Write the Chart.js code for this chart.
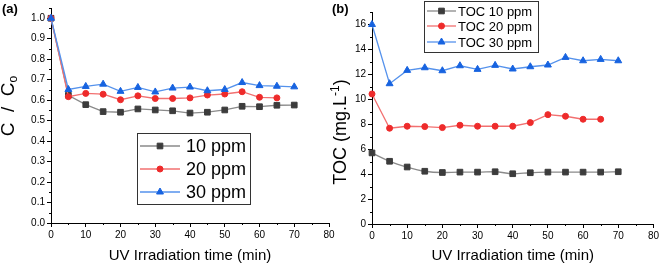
<!DOCTYPE html>
<html>
<head>
<meta charset="utf-8">
<script src="https://cdn.jsdelivr.net/npm/chart.js@4.4.1/dist/chart.umd.min.js"></script>
<style>
  body { margin: 0; background: #fff; }
  #wrap { position: relative; width: 661px; height: 265px; background: #fff; overflow: hidden; }
  canvas { position: absolute; top: 0; }
</style>
</head>
<body>
<div id="wrap">
  <canvas id="chartA" width="340" height="265" style="left:0"></canvas>
  <canvas id="chartB" width="331" height="265" style="left:330px"></canvas>
</div>
<script>
// irradiation times (min)
const timeMin = [0, 5, 10, 15, 20, 25, 30, 35, 40, 45, 50, 55, 60, 65, 70];

// panel (a): C / Co
const ratio10 = [1.0, 0.624, 0.578, 0.544, 0.541, 0.557, 0.552, 0.548, 0.537, 0.541, 0.552, 0.570, 0.568, 0.575, 0.576];
const ratio20 = [1.0, 0.617, 0.633, 0.629, 0.602, 0.621, 0.608, 0.608, 0.611, 0.625, 0.630, 0.641, 0.614, 0.611];
const ratio30 = [1.0, 0.652, 0.667, 0.678, 0.643, 0.662, 0.640, 0.659, 0.664, 0.646, 0.652, 0.686, 0.671, 0.668, 0.665];

// panel (b): TOC (mg/L)
const toc10 = [5.70, 5.03, 4.57, 4.23, 4.13, 4.16, 4.16, 4.19, 4.03, 4.11, 4.16, 4.16, 4.16, 4.16, 4.19];
const toc20 = [10.43, 7.68, 7.84, 7.81, 7.73, 7.92, 7.84, 7.84, 7.84, 8.13, 8.77, 8.64, 8.40, 8.40];
const toc30 = [16.0, 11.25, 12.32, 12.53, 12.29, 12.69, 12.40, 12.72, 12.43, 12.61, 12.75, 13.36, 13.09, 13.20, 13.09];

const labelsA = ['10 ppm', '20 ppm', '30 ppm'];
const labelsB = ['TOC 10 ppm', 'TOC 20 ppm', 'TOC 30 ppm'];

Chart.defaults.font.family = '"Liberation Sans", Arial, sans-serif';
Chart.defaults.color = '#000';

const styles = [
  { line: '#8a8a8a', mark: '#3c3c3c', shape: 'rect', r: 4 },
  { line: '#f27070', mark: '#ee2b2b', shape: 'circle', r: 3 },
  { line: '#5592ec', mark: '#1763e0', shape: 'triangle', r: 4 }
];

const toPoints = (vals) => vals.map((v, i) => ({ x: timeMin[i], y: v }));

const makeSet = (label, vals, idx, smooth) => ({
  label,
  data: toPoints(vals),
  borderColor: styles[idx].line,
  borderWidth: 1.3,
  pointStyle: styles[idx].shape,
  pointRadius: styles[idx].r,
  pointBackgroundColor: styles[idx].mark,
  pointBorderColor: styles[idx].mark,
  pointBorderWidth: 1,
  cubicInterpolationMode: smooth ? 'monotone' : 'default',
  order: 2 - idx,
  clip: false
});

// minor ticks + titles + legend box drawn on canvas
const extrasPlugin = {
  id: 'extras',
  afterDraw(chart, args, opts) {
    const ctx = chart.ctx;
    const xs = chart.scales.x, ys = chart.scales.y;
    ctx.save();
    ctx.strokeStyle = '#000';
    ctx.lineWidth = 1;
    ctx.beginPath();
    for (let v = 5; v < 80; v += 10) {
      const px = Math.round(xs.getPixelForValue(v)) + 0.5;
      ctx.moveTo(px, xs.top); ctx.lineTo(px, xs.top + 2);
    }
    for (let v = opts.yMinor; v <= ys.max + 1e-9; v += opts.yStep) {
      const py = Math.round(ys.getPixelForValue(v)) + 0.5;
      ctx.moveTo(ys.right, py); ctx.lineTo(ys.right - 2, py);
    }
    ctx.stroke();

    // panel letter
    ctx.fillStyle = '#000';
    ctx.font = 'bold 13px "Liberation Sans", Arial, sans-serif';
    ctx.textBaseline = 'top';
    ctx.textAlign = 'left';
    ctx.fillText(opts.panel, 2, 3);

    // y title with sub/superscript
    ctx.translate(opts.titleX, opts.titleY);
    ctx.rotate(-Math.PI / 2);
    const big = opts.titleSize + 'px "Liberation Sans", Arial, sans-serif';
    const small = '12px "Liberation Sans", Arial, sans-serif';
    ctx.font = big;
    const w1 = ctx.measureText(opts.yTitle[0]).width;
    ctx.font = small;
    const w2 = ctx.measureText(opts.yTitle[1]).width;
    ctx.font = big;
    const w3 = ctx.measureText(opts.yTitle[2]).width;
    let x0 = -(w1 + w2 + w3) / 2;
    ctx.textBaseline = 'middle';
    ctx.font = big;
    ctx.fillText(opts.yTitle[0], x0, 0);
    ctx.font = small;
    ctx.fillText(opts.yTitle[1], x0 + w1, opts.scriptShift);
    ctx.font = big;
    ctx.fillText(opts.yTitle[2], x0 + w1 + w2, 0);
    ctx.restore();

    // legend
    const lg = opts.legend;
    ctx.save();
    ctx.strokeStyle = '#333';
    ctx.lineWidth = 1;
    ctx.strokeRect(lg.x + 0.5, lg.y + 0.5, lg.w, lg.h);
    ctx.font = lg.font + 'px "Liberation Sans", Arial, sans-serif';
    ctx.textBaseline = 'middle';
    chart.data.datasets.forEach((ds, i) => {
      const yy = lg.rows[i];
      ctx.strokeStyle = ds.borderColor;
      ctx.lineWidth = 1.3;
      ctx.beginPath();
      ctx.moveTo(lg.lineX[0], yy); ctx.lineTo(lg.lineX[1], yy);
      ctx.stroke();
      ctx.fillStyle = ds.pointBackgroundColor;
      ctx.strokeStyle = ds.pointBorderColor;
      ctx.lineWidth = 1;
      Chart.helpers.drawPoint(ctx, { pointStyle: ds.pointStyle, radius: ds.pointRadius, rotation: 0, borderWidth: 1 },
        (lg.lineX[0] + lg.lineX[1]) / 2, yy);
      ctx.fillStyle = '#000';
      ctx.fillText(ds.label, lg.textX, yy + 1);
    });
    ctx.restore();
  }
};

const axisOpts = (yMax, yStep, yFmt, leftW, bottomH) => ({
  x: {
    type: 'linear', min: 0, max: 80,
    ticks: { stepSize: 10, padding: 2, font: { size: 10 }, maxRotation: 0 },
    grid: { display: true, drawOnChartArea: false, drawTicks: true, tickLength: 4, color: '#000' },
    border: { display: true, color: '#000', width: 1 },
    title: { display: true, text: 'UV Irradiation time (min)', font: { size: 15 }, padding: { top: 0, bottom: 0 } },
    afterFit: (s) => { s.height = bottomH; }
  },
  y: {
    min: 0, max: yMax,
    ticks: { stepSize: yStep, includeBounds: false, padding: 2, font: { size: 10 }, callback: yFmt },
    grid: { display: true, drawOnChartArea: false, drawTicks: true, tickLength: 4, color: '#000' },
    border: { display: true, color: '#000', width: 1 },
    afterFit: (s) => { s.width = leftW; }
  }
});

new Chart(document.getElementById('chartA'), {
  type: 'line',
  data: {
    datasets: [
      makeSet(labelsA[0], ratio10, 0, false),
      makeSet(labelsA[1], ratio20, 1, false),
      makeSet(labelsA[2], ratio30, 2, false)
    ]
  },
  options: {
    responsive: false,
    animation: false,
    layout: { padding: { top: 8, right: 11, left: 0, bottom: 0 } },
    scales: axisOpts(1.05, 0.1, (v) => v.toFixed(1), 51, 42),
    plugins: {
      legend: { display: false },
      tooltip: { enabled: false },
      extras: {
        panel: '(a)', yMinor: 0.05, yStep: 0.1,
        titleX: 9, titleY: 106, titleSize: 19, yTitle: ['C  /  C', 'o', ''], scriptShift: 5,
        legend: { x: 137, y: 133, w: 113, h: 71, font: 18, rows: [146, 169, 192], lineX: [140, 180], textX: 186 }
      }
    }
  },
  plugins: [extrasPlugin]
});

new Chart(document.getElementById('chartB'), {
  type: 'line',
  data: {
    datasets: [
      makeSet(labelsB[0], toc10, 0, true),
      makeSet(labelsB[1], toc20, 1, false),
      makeSet(labelsB[2], toc30, 2, false)
    ]
  },
  options: {
    responsive: false,
    animation: false,
    layout: { padding: { top: 12, right: 6, left: 0, bottom: 0 } },
    scales: axisOpts(17, 2, (v) => String(v), 42, 41),
    plugins: {
      legend: { display: false },
      tooltip: { enabled: false },
      extras: {
        panel: '(b)', yMinor: 1, yStep: 2,
        titleX: 11, titleY: 132, titleSize: 18, yTitle: ['TOC (mg.L', '-1', ')'], scriptShift: -5,
        legend: { x: 94, y: 1, w: 114, h: 51, font: 13, rows: [11, 26, 42], lineX: [97, 126], textX: 128 }
      }
    }
  },
  plugins: [extrasPlugin]
});
</script>
</body>
</html>
